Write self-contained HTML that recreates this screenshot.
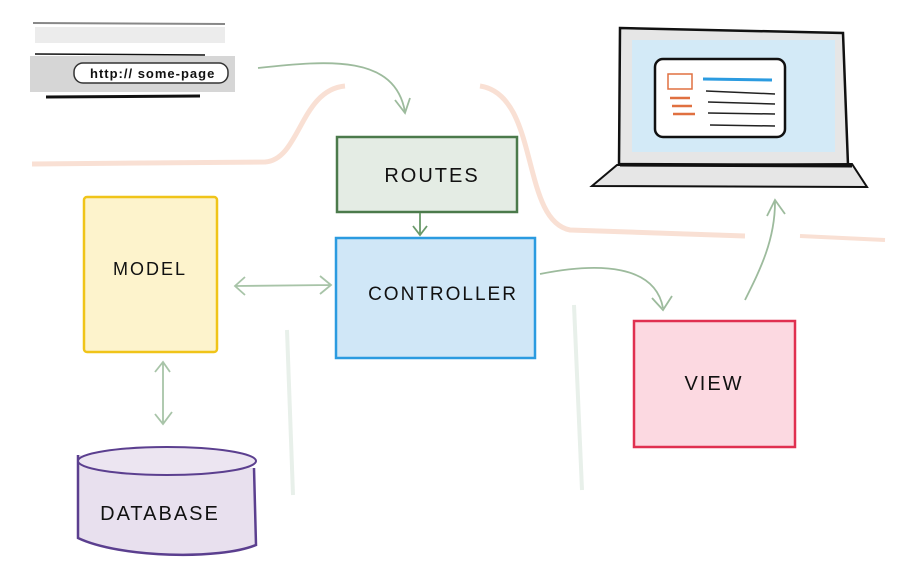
<!DOCTYPE html>
<html><head><meta charset="utf-8"><style>
html,body{margin:0;padding:0;background:#fff;}
svg{display:block;}
text{font-family:"Liberation Sans",sans-serif;fill:#111;letter-spacing:2px;}
</style></head><body>
<svg width="906" height="583" viewBox="0 0 906 583" xmlns="http://www.w3.org/2000/svg">
<!-- url bar -->
<line x1="33" y1="23" x2="225" y2="24" stroke="#888" stroke-width="2"/>
<rect x="35" y="27" width="190" height="16" fill="#ececec"/>
<line x1="35" y1="54" x2="205" y2="55" stroke="#111" stroke-width="1.5"/>
<rect x="30" y="56" width="205" height="36" fill="#d6d6d6"/>
<rect x="74" y="63" width="154" height="20" rx="9" fill="#fff" stroke="#333" stroke-width="1.5"/>
<text x="90" y="78" font-size="13" style="letter-spacing:1px;font-weight:bold">http:// some-page</text>
<line x1="46" y1="97" x2="200" y2="96" stroke="#111" stroke-width="3"/>
<!-- pink flourish -->
<path d="M32 164 L265 162 C300 160 300 90 345 86" fill="none" stroke="#f9e0d4" stroke-width="5"/>
<path d="M480 86 C540 95 520 220 570 230 L745 236" fill="none" stroke="#f9e0d4" stroke-width="5"/>
<path d="M800 236 L885 240" fill="none" stroke="#f9e0d4" stroke-width="4"/>
<!-- faint verticals -->
<path d="M287 330 L293 495" stroke="#e8f0ea" stroke-width="4" fill="none"/>
<path d="M574 305 L582 490" stroke="#e8f0ea" stroke-width="4" fill="none"/>
<!-- url→routes arrow -->
<path d="M258 68 C330 60 395 55 405 112" fill="none" stroke="#9dbb9d" stroke-width="1.8"/>
<path d="M395 100 L405 113 L410 98" fill="none" stroke="#9dbb9d" stroke-width="1.8"/>
<!-- routes -->
<rect x="337" y="137" width="180" height="75" fill="#e4ece4" stroke="#4b7a4b" stroke-width="2.5"/>
<text x="432" y="182" font-size="20" text-anchor="middle" style="font-weight:300">ROUTES</text>
<path d="M420 213 L420 234 M413 226 L420 235 L427 226" fill="none" stroke="#6a9a6a" stroke-width="1.8"/>
<!-- controller -->
<rect x="336" y="238" width="199" height="120" fill="#d0e7f7" stroke="#2b9be0" stroke-width="2.5"/>
<text x="443" y="300" font-size="19" text-anchor="middle">CONTROLLER</text>
<!-- model -->
<rect x="84" y="197" width="133" height="155" rx="3" fill="#fdf3cc" stroke="#f0c419" stroke-width="2.5"/>
<text x="150" y="275" font-size="18" text-anchor="middle">MODEL</text>
<path d="M235 286 L330 285 M245 277 L235 286 L245 295 M320 276 L331 285 L320 294" fill="none" stroke="#a8c4a8" stroke-width="1.8"/>
<path d="M163 362 L163 424 M155 372 L163 362 L170 372 M155 414 L163 424 L172 412" fill="none" stroke="#a8c4a8" stroke-width="1.8"/>
<!-- database -->
<path d="M78 455 L78 538 C120 558 220 560 256 545 L254 468" fill="#e8e0ee" stroke="#5b3f8f" stroke-width="2.5"/>
<ellipse cx="167" cy="461" rx="89" ry="14" fill="#ece5f1" stroke="#5b3f8f" stroke-width="2"/>
<text x="160" y="520" font-size="20" text-anchor="middle">DATABASE</text>
<!-- controller→view -->
<path d="M540 274 C600 262 655 265 663 308" fill="none" stroke="#9dbb9d" stroke-width="1.8"/>
<path d="M652 298 L663 310 L672 296" fill="none" stroke="#9dbb9d" stroke-width="1.8"/>
<!-- view -->
<rect x="634" y="321" width="161" height="126" fill="#fcd9e1" stroke="#e03050" stroke-width="2.5"/>
<text x="714" y="390" font-size="20" text-anchor="middle">VIEW</text>
<path d="M745 300 C760 270 775 240 775 202 M767 216 L775 200 L785 214" fill="none" stroke="#9dbb9d" stroke-width="1.8"/>
<!-- laptop -->
<path d="M620 28 L843 33 L848 165 L619 164 Z" fill="#e6e6e6" stroke="#111" stroke-width="2.5"/>
<rect x="632" y="40" width="203" height="112" fill="#d3eaf7"/>
<rect x="655" y="59" width="130" height="78" rx="8" fill="#fff" stroke="#111" stroke-width="2.5"/>
<rect x="668" y="74" width="24" height="15" fill="none" stroke="#e07040" stroke-width="1.5"/>
<path d="M670 98 L690 98 M672 106 L692 106 M673 114 L695 114" stroke="#e07040" stroke-width="2.5"/>
<path d="M703 79 L772 80" stroke="#2b9be0" stroke-width="3"/>
<path d="M706 91 L775 94 M708 102 L775 104 M708 113 L775 114 M710 125 L775 126" stroke="#222" stroke-width="1.5"/>
<path d="M617 165 L852 164 L867 187 L592 186 Z" fill="#e6e6e6" stroke="#111" stroke-width="2"/>
<line x1="620" y1="165" x2="852" y2="166" stroke="#111" stroke-width="3"/>
</svg>
</body></html>
